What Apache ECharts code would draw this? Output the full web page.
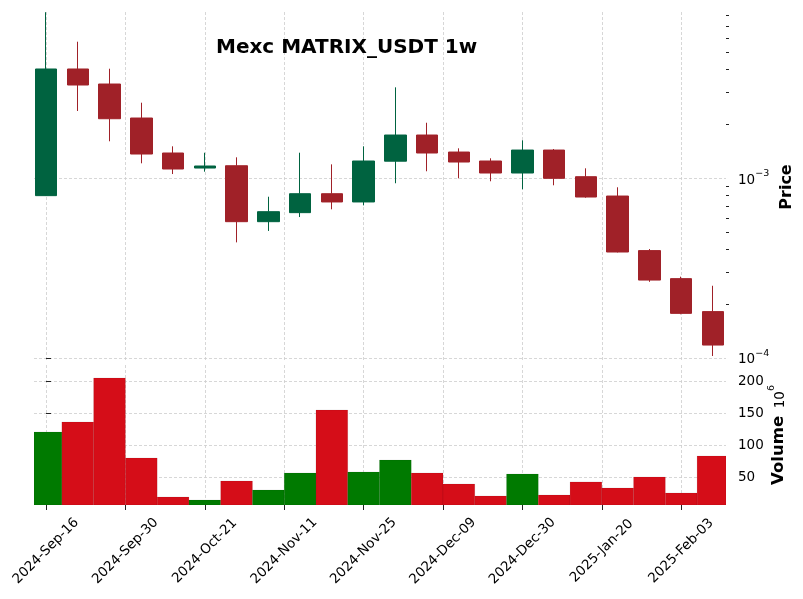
<!DOCTYPE html>
<html><head><meta charset="utf-8">
<script src="https://cdn.jsdelivr.net/npm/echarts@6/dist/echarts.min.js"></script>
<style>html,body{margin:0;padding:0;background:#fff}#c{width:803px;height:599px}</style>
</head><body><div id="c"></div>
<script>
const dates = ['2024-Sep-16','2024-Sep-23','2024-Sep-30','2024-Oct-07','2024-Oct-14','2024-Oct-21','2024-Oct-28','2024-Nov-04','2024-Nov-11','2024-Nov-18','2024-Nov-25','2024-Dec-02','2024-Dec-09','2024-Dec-16','2024-Dec-23','2024-Dec-30','2025-Jan-06','2025-Jan-13','2025-Jan-20','2025-Jan-27','2025-Feb-03','2025-Feb-10'];
const openP  = [0.000798,0.004033,0.003328,0.002154,0.001377,0.001136,0.00117,0.000572,0.000642,0.000818,0.000736,0.00124,0.001733,0.001394,0.001243,0.001066,0.00143,0.001017,0.000794,0.000395,0.000276,0.000181];
const closeP = [0.004033,0.003286,0.002135,0.001359,0.001122,0.001166,0.000572,0.00065,0.000818,0.000736,0.001243,0.001733,0.001377,0.001227,0.001066,0.00143,0.000996,0.000784,0.000388,0.000271,0.000177,0.000118];
const lowP   = [0.000795,0.002357,0.0016,0.001207,0.001052,0.001084,0.000439,0.000508,0.000607,0.00067,0.000705,0.000935,0.00109,0.000996,0.000959,0.000866,0.000911,0.000777,0.000386,0.000265,0.000175,0.0001026];
const highP  = [0.00834,0.005718,0.004047,0.00262,0.0015,0.001382,0.001303,0.000787,0.001382,0.001191,0.0015,0.00319,0.002028,0.001462,0.001287,0.00162,0.001449,0.001132,0.000888,0.000403,0.000283,0.000252];
const volumeM = [120.8,136.4,205.2,80.2,19.2,14.5,44.2,30.2,56.7,155.2,58.3,77.0,56.7,39.5,20.8,55.2,22.3,42.7,33.3,50.5,25.5,83.3];
const xTickPositions = [0,2.5,5,7.5,10,12.5,15,17.5,20];
const xTickLabels = ['2024-Sep-16','2024-Sep-30','2024-Oct-21','2024-Nov-11','2024-Nov-25','2024-Dec-09','2024-Dec-30','2025-Jan-20','2025-Feb-03'];
const priceMajorTicks = [1e-4,1e-3];
const priceMinorTicks = [2e-4,3e-4,4e-4,5e-4,6e-4,7e-4,8e-4,9e-4,2e-3,3e-3,4e-3,5e-3,6e-3,7e-3,8e-3];
const volumeTicks = [50,100,150,200];

const UP = '#006340', DOWN = '#a02128', VUP = '#007a00', VDOWN = '#d50d18';
const FONT = 'DejaVu Sans';
const TICKFS = 13.5;
const gridLine = {show:true, lineStyle:{color:'#cdcdcd', width:0.8, type:[3,2]}};
const X_MIN = -0.378, X_MAX = 21.41;

const candleData = dates.map((d,i)=>[i, openP[i], closeP[i], lowP[i], highP[i]]);
const volData = dates.map((d,i)=>[i, volumeM[i], closeP[i] >= openP[i] ? 1 : 0]);

function renderVol(params, api){
  const x = api.value(0), v = api.value(1), up = api.value(2);
  const p0 = api.coord([x - 0.5, v]);
  const p1 = api.coord([x + 0.5, 0]);
  const cs = params.coordSys;
  const r = echarts.graphic.clipRectByRect(
    {x:p0[0], y:p0[1], width:p1[0]-p0[0], height:p1[1]-p0[1]},
    {x:cs.x, y:cs.y, width:cs.width, height:cs.height});
  if (!r) return null;
  return {type:'rect', shape:r,
    style:{fill: up ? VUP : VDOWN, stroke:'rgba(0,0,0,0.12)', lineWidth:0.6}};
}

const chart = echarts.init(document.getElementById('c'), null, {renderer:'canvas'});
chart.setOption({
  animation:false,
  backgroundColor:'#fff',
  textStyle:{fontFamily:FONT},
  title:{text:'Mexc MATRIX_USDT 1w', left:211, top:33,
    textStyle:{fontFamily:FONT, fontWeight:'bold', fontSize:20, color:'#000'}},
  grid:[
    {left:34, right:77, top:12, height:350},
    {left:34, right:77, top:365, height:140}
  ],
  xAxis:[
    {type:'value', gridIndex:0, min:X_MIN, max:X_MAX,
      axisLine:{show:false}, axisLabel:{show:false},
      axisTick:{show:false, customValues:xTickPositions},
      splitLine:gridLine},
    {type:'value', gridIndex:1, min:X_MIN, max:X_MAX,
      axisLine:{show:false},
      axisTick:{show:true, length:5, customValues:xTickPositions, lineStyle:{color:'#222'}},
      axisLabel:{show:true, customValues:xTickPositions, rotate:45, align:'center', verticalAlign:'middle',
        margin:46, fontSize:TICKFS, color:'#000', fontFamily:FONT,
        formatter:(v)=>{const k=xTickPositions.indexOf(v); return k>=0?xTickLabels[k]:'';}},
      splitLine:gridLine}
  ],
  yAxis:[
    {type:'log', gridIndex:0, position:'right', min:9.501e-5, max:0.008362,
      axisLine:{show:false},
      axisTick:{show:true, length:5, customValues:priceMajorTicks, lineStyle:{color:'#222'}},
      axisLabel:{show:true, customValues:priceMajorTicks, margin:12, color:'#000',
        formatter:(v)=>'{n|10}{s|\u2212'+Math.abs(Math.round(Math.log10(v)))+'}',
        rich:{n:{fontSize:TICKFS, fontFamily:FONT, color:'#000', lineHeight:18, verticalAlign:'bottom'},
              s:{fontSize:9.5, fontFamily:FONT, color:'#000', lineHeight:8, verticalAlign:'top'}}},
      splitLine:gridLine,
      name:'Price', nameLocation:'middle', nameRotate:90, nameGap:53, nameMoveOverlap:false,
      nameTextStyle:{fontFamily:FONT, fontWeight:'bold', fontSize:16, color:'#000'}},
    {type:'log', gridIndex:0, position:'right', min:9.501e-5, max:0.008362,
      axisLine:{show:false}, axisLabel:{show:false}, splitLine:{show:false},
      axisTick:{show:true, length:3, customValues:priceMinorTicks, lineStyle:{color:'#222'}}},
    {type:'value', gridIndex:1, position:'right', min:6.7, max:225.5,
      axisLine:{show:false},
      axisTick:{show:true, length:5, customValues:volumeTicks, lineStyle:{color:'#222'}},
      axisLabel:{show:true, customValues:volumeTicks, margin:12, fontSize:TICKFS, color:'#000', fontFamily:FONT},
      splitLine:gridLine,
      name:'{b|Volume}  {n|10}{s|6}', nameLocation:'middle', nameRotate:90, nameGap:41, nameMoveOverlap:false,
      nameTextStyle:{rich:{
        b:{fontFamily:FONT, fontWeight:'bold', fontSize:16.5, color:'#000', lineHeight:20, verticalAlign:'bottom'},
        n:{fontFamily:FONT, fontSize:TICKFS, color:'#000', lineHeight:18, verticalAlign:'bottom'},
        s:{fontFamily:FONT, fontSize:9.5, color:'#000', lineHeight:8, verticalAlign:'top'}}}}
  ],
  series:[
    {type:'candlestick', xAxisIndex:0, yAxisIndex:0, data:candleData,
      dimensions:['x','open','close','low','high'], encode:{x:0, y:[1,2,3,4]},
      barWidth:22,
      itemStyle:{color:UP, color0:DOWN, borderColor:UP, borderColor0:DOWN, borderWidth:1}},
    {type:'custom', xAxisIndex:1, yAxisIndex:2, data:volData,
      dimensions:['x','volume','up'], encode:{x:0, y:1},
      renderItem:renderVol, clip:true}
  ]
});
</script></body></html>
